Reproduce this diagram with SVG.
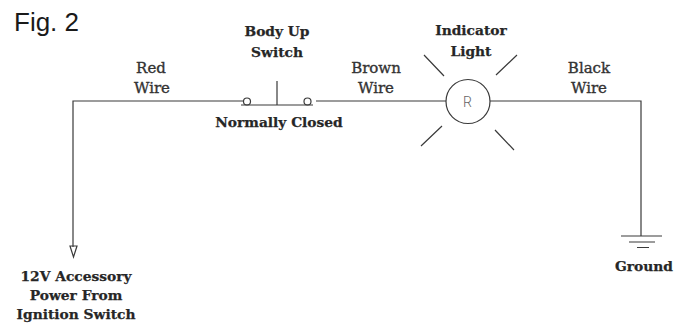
<svg xmlns="http://www.w3.org/2000/svg" width="688" height="327" viewBox="0 0 688 327">
<style>
.w{fill:none;stroke:#3a3a3a;stroke-width:1.2}
.t{font-family:"DejaVu Serif",serif;font-weight:700;font-size:13.8px;fill:#262626;text-anchor:middle;stroke:#262626;stroke-width:.25}
.m{font-family:"DejaVu Serif",serif;font-weight:400;font-size:15px;fill:#333;text-anchor:middle;stroke:#333;stroke-width:.35}
</style>
<rect width="688" height="327" fill="#fff"/>
<text id="fig" x="14" y="31" font-family="Liberation Sans,Arial,sans-serif" font-size="26" fill="#1a1a1a">Fig. 2</text>
<g id="connectors">
<path class="w" d="M73 247V101H243"/>
<path class="w" d="M316 101H446"/>
<path class="w" d="M490 101H641V236"/>
</g>
<g id="arrow"><path class="w" d="M70 246H77L73.500 257Z"/></g>
<g id="switch">
<circle class="w" cx="247" cy="101.500" r="3.500"/>
<circle class="w" cx="307.500" cy="101.500" r="3.500"/>
<path class="w" d="M241 105H313M277 81V105"/>
<text class="t" x="277" y="36">Body Up</text>
<text class="t" x="277" y="57">Switch</text>
<text class="t" x="279" y="127">Normally Closed</text>
</g>
<g id="light">
<circle class="w" cx="468" cy="101.500" r="22"/>
<text x="467.500" y="107" font-family="Roboto,sans-serif" font-weight="300" font-size="14" fill="#666" text-anchor="middle">R</text>
<path class="w" d="M424 55L444 76M517 55L496 75M442 126L421 146M495 130L514 150"/>
<text class="t" x="471" y="35">Indicator</text>
<text class="t" x="471" y="56">Light</text>
</g>
<g id="red"><text class="m" x="151" y="73">Red</text><text class="m" x="152" y="93">Wire</text></g>
<g id="brown"><text class="m" x="376" y="73">Brown</text><text class="m" x="376" y="93">Wire</text></g>
<g id="black"><text class="m" x="589" y="73">Black</text><text class="m" x="589" y="93">Wire</text></g>
<g id="ground">
<path class="w" d="M621 236H662M629 242H655M637 247.500H649"/>
<text class="t" x="644" y="271">Ground</text>
</g>
<g id="power">
<text class="t" x="76" y="281">12V Accessory</text>
<text class="t" x="76" y="300">Power From</text>
<text class="t" x="76" y="319">Ignition Switch</text>
</g>
</svg>
